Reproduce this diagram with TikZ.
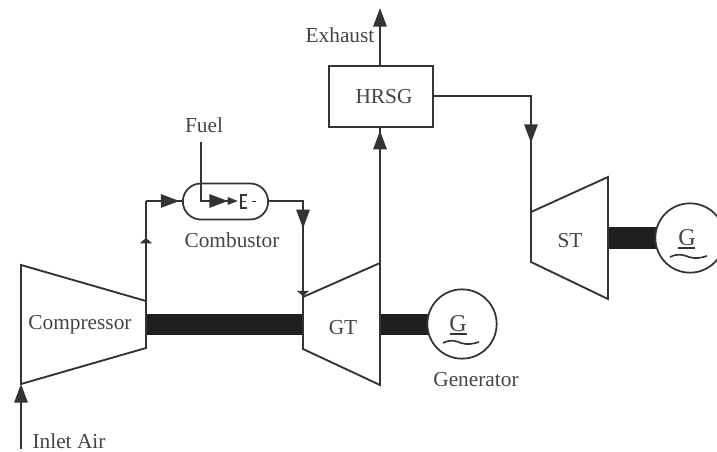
\documentclass[tikz,border=0pt]{standalone}
\usepackage{fontspec}
\setmainfont{Liberation Serif}
\usetikzlibrary{arrows.meta,decorations.markings,shapes.misc}
\definecolor{ink}{HTML}{333333}
\definecolor{txt}{HTML}{444444}
\tikzset{
  x=0.75pt,y=-0.75pt,
  pipe/.style={draw=ink,line width=1.5pt,line join=miter},
  machine/.style={draw=ink,line width=1.4pt,line join=miter,fill=white},
  lbl/.style={text=txt,font=\fontsize{16}{18}\selectfont,inner sep=0pt},
  shaft/.style={fill=black!88,draw=none},
  head/.style={-{Triangle[length=14pt,width=10pt]}},
  midhead/.style={postaction={decorate},decoration={markings,mark=at position #1 with {\arrow[ink]{Triangle[length=14pt,width=10pt]}}}},
  smallhead/.style={postaction={decorate},decoration={markings,mark=at position #1 with {\arrow[ink]{Triangle[length=4pt,width=9pt]}}}},
  gen/.style={circle,draw=ink,line width=1.3pt,minimum size=52pt,inner sep=0pt,fill=white,text=txt,font=\fontsize{19}{20}\selectfont},
}
\begin{document}
\begin{tikzpicture}
\useasboundingbox (0,0) rectangle (717,452);
% shape corners
\coordinate (c1) at (21,265); \coordinate (c2) at (146,301); \coordinate (c3) at (146,348); \coordinate (c4) at (21,384);
\coordinate (g1) at (303,297); \coordinate (g2) at (380,263); \coordinate (g3) at (380,385); \coordinate (g4) at (303,349);
\coordinate (s1) at (531,212); \coordinate (s2) at (608,177); \coordinate (s3) at (608,299); \coordinate (s4) at (531,262);
% free ends and bends
\coordinate (inlet) at (21,449);
\coordinate (top) at (380,8);
\coordinate (fuelstart) at (201,142);
\coordinate (flame) at (228,201);
\coordinate (airbend) at (146,201);
\begin{scope}
\clip (0,0) rectangle (717,452);
% shafts
\fill[shaft] (146,314) rectangle (303,335);
\fill[shaft] (380,314) rectangle (430,335);
\fill[shaft] (608,227) rectangle (658,249);
% machines
\draw[machine] (c1) -- (c2) -- (c3) -- (c4) -- cycle;
\draw[machine] (g1) -- (g2) -- (g3) -- (g4) -- cycle;
\draw[machine] (s1) -- (s2) -- (s3) -- (s4) -- cycle;
\node[gen] (genA) at (462,324) {};
\node[gen] (genB) at (690,238) {};
\node[draw=ink,line width=1.5pt,minimum width=78pt,minimum height=45.75pt,inner sep=0pt,fill=white] (hrsg) at (381,96.5) {};
\node[draw=ink,line width=1.3pt,rounded rectangle,minimum width=64pt,minimum height=27pt,inner sep=0pt,fill=white] (comb) at (225.5,201.5) {};
% connectors
\draw[pipe,head] (inlet) -- (c4);
\draw[pipe,smallhead=0.63] (c2) -- (airbend);
\draw[pipe,midhead=0.93] (airbend) -- (airbend -| comb.west);
\draw[pipe,midhead=0.47] (comb.east) -| (g1);
\draw[pipe,smallhead=0.97] (303,270) -- (g1);
\draw[pipe,midhead=0.98] (g2) -- (g2 |- hrsg.south);
\draw[pipe,head] (g2 |- hrsg.north) -- (top);
\draw[pipe,midhead=0.675] (hrsg.east) -| (s1);
\draw[pipe,midhead=1] (fuelstart) |- (flame);
\draw[ink,fill=ink] (228,197.5) -- (237,201) -- (228,204.5) -- cycle;
% burner symbol
\draw[ink,line width=1pt] (247,195) -- (241,195) -- (241,208) -- (247,208) (241,201.5) -- (246,201.5);
\draw[ink,line width=1.2pt] (252,201.5) -- (256,201.5);
% generator underlines and waves
\draw[ink,line width=0.8pt] (450,334) -- (467,334) (678,248) -- (695,248);
\draw[ink,line width=1.2pt] (443,343) .. controls (451,339) and (456,341) .. (461,343) .. controls (467,345) and (473,344) .. (479,342);
\draw[ink,line width=1.2pt] (670,257) .. controls (678,253) and (684,255) .. (689,257) .. controls (695,259) and (701,258) .. (707,256);
\end{scope}
% labels
\node[lbl] (fuel) at (204,125) {Fuel};
\node[lbl] (combl) at (232,240) {Combustor};
\node[lbl] (exh) at (340,35) {Exhaust};
\node[lbl] (hrsgl) at (384,96.5) {HRSG};
\node[lbl] (compl) at (80,325) {Compressor};
\node[lbl] (gtl) at (343,328) {GT};
\node[lbl] (stl) at (570,241) {ST};
\node[lbl] (genl) at (476,380) {Generator};
\node[lbl] (inl) at (69,441.5) {Inlet Air};
\node[text=txt,font=\fontsize{18}{20}\selectfont,inner sep=0pt] (ga) at (458,324) {G};
\node[text=txt,font=\fontsize{18}{20}\selectfont,inner sep=0pt] (gb) at (687,238) {G};
\end{tikzpicture}
\end{document}
